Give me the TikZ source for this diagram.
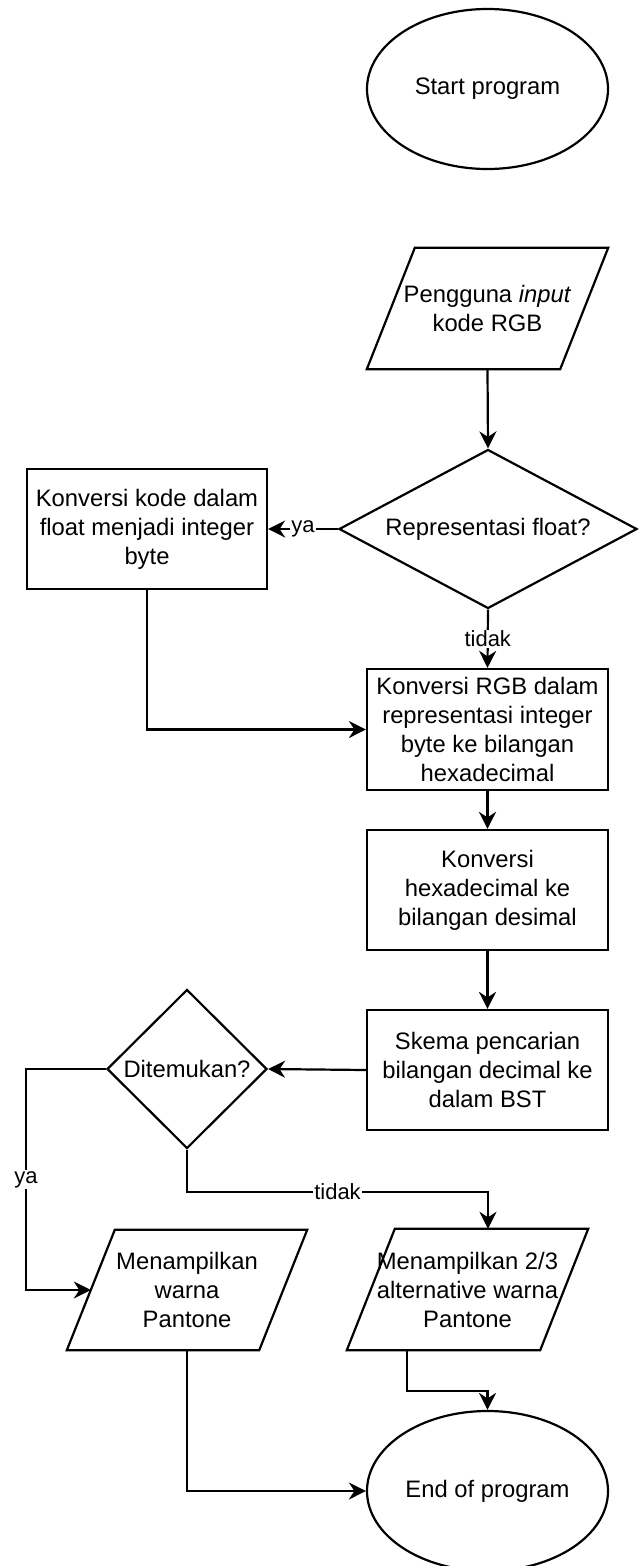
\documentclass[tikz,border=0pt]{standalone}
\usepackage{fontspec}
\setmainfont{Liberation Sans}
\usetikzlibrary{shapes.geometric,arrows.meta}
\begin{document}
\begin{tikzpicture}[x=1pt,y=-1pt,
  every node/.style={font=\fontsize{23.8}{29}\selectfont, align=center, inner sep=0pt},
  shp/.style={draw, line width=2.2pt, line join=miter},
  box/.style={shp, rectangle, minimum width=241pt, minimum height=121pt},
  term/.style={shp, ellipse, minimum width=241pt, minimum height=160pt},
  dec/.style={shp, diamond},
  io/.style={rectangle, minimum width=241pt, minimum height=121pt},
  arr/.style={line width=2.2pt, -{Stealth[length=17pt,width=17pt,inset=5.5pt]}},
  lbl/.style={fill=white, inner sep=1pt, font=\fontsize{22}{26}\selectfont}]

\useasboundingbox (0,0) rectangle (644,1566);

% nodes
\node[term] (start) at (487.5,89) {Start program};
\node[io] (in) at (487.5,308.5) {Pengguna \textit{input}\\kode RGB};
\node[dec, minimum width=298pt, minimum height=159pt, aspect=1.87] (d1) at (488,529) {Representasi float?};
\node[box, minimum width=240pt, minimum height=120pt] (b1) at (147,529) {Konversi kode dalam\\float menjadi integer\\byte};
\node[box] (b2) at (487.5,729.5) {Konversi RGB dalam\\representasi integer\\byte ke bilangan\\hexadecimal};
\node[box, minimum height=120pt] (b3) at (487.5,890) {Konversi\\hexadecimal ke\\bilangan desimal};
\node[box, minimum height=120pt] (b4) at (487.5,1070) {Skema pencarian\\bilangan decimal ke\\dalam BST};
\node[dec, minimum width=160pt, minimum height=159pt, aspect=1] (d2) at (187,1069) {Ditemukan?};
\node[io, minimum width=240pt, minimum height=120pt] (pl) at (187,1290) {Menampilkan\\warna\\Pantone};
\node[io, minimum height=121pt] (pr) at (467.5,1289.5) {Menampilkan 2/3\\alternative warna\\Pantone};
\node[term] (end) at (487.5,1491) {End of program};

% parallelogram outlines
\foreach \n in {in,pl,pr}
  \draw[shp] ([xshift=48pt]\n.north west) -- (\n.north east) -- ([xshift=-48pt]\n.south east) -- (\n.south west) -- cycle;

% connectors
\draw[arr] (in.south) -- (d1.north);
\draw[arr] (d1.west) -- node[lbl]{ya} (b1.east);
\draw[arr] (d1.south) -- node[lbl]{tidak} (b2.north);
\draw[arr] (b1.south) |- (b2.west);
\draw[arr] (b2.south) -- (b3.north);
\draw[arr] (b3.south) -- (b4.north);
\draw[arr] (b4.west) -- (d2.east);

\coordinate (plin) at ([xshift=24pt]pl.west);
\draw[arr] (d2.west) -- ++(-80,0) coordinate (ya1) -- node[lbl]{ya} (ya1 |- plin) -- (plin);

\coordinate (prin) at ([xshift=20.5pt]pr.north);
\draw[arr] (d2.south) -- ++(0,42) coordinate (t1) -- node[lbl]{tidak} (t1 -| prin) -- (prin);

\draw[arr] (pl.south) |- (end.west);
\coordinate (prout) at ([xshift=-60.5pt]pr.south);
\draw[arr] (prout) -- ++(0,41) -| (end.north);
\end{tikzpicture}
\end{document}
